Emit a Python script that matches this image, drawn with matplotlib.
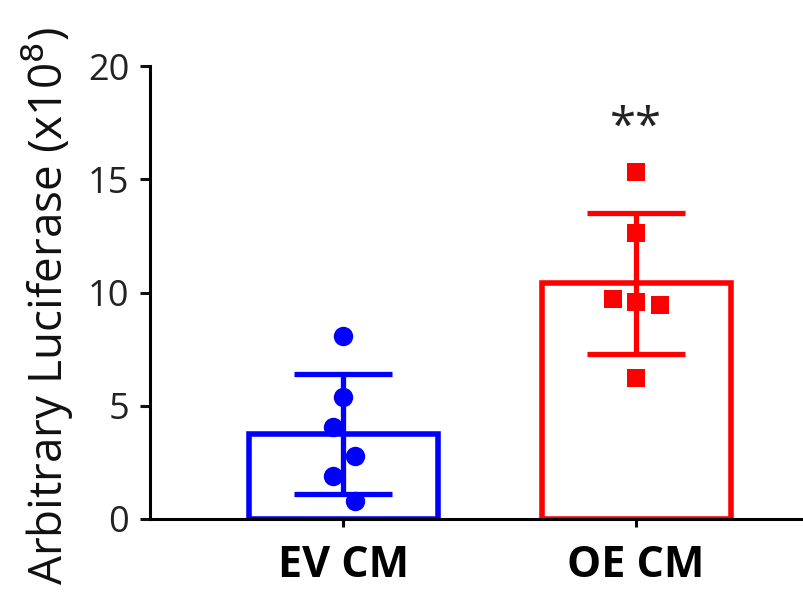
import matplotlib
matplotlib.use("Agg")
import matplotlib.pyplot as plt
import numpy as np

categories = ["EV CM", "OE CM"]
ev_values = [8.08, 5.39, 4.06, 2.78, 1.90, 0.79]
oe_values = [15.32, 12.63, 9.71, 9.58, 9.45, 6.23]
ev_offsets = [0.0, 0.0, -0.035, 0.04, -0.035, 0.04]
oe_offsets = [0.0, 0.0, -0.08, 0.0, 0.08, 0.0]
means = [3.75, 10.4]
sds = [2.65, 3.1]
colors = ["#0000ff", "#ff0000"]
yticks = [0, 5, 10, 15, 20]
annotation = "**"

plt.rcParams['font.family'] = ['Open Sans', 'DejaVu Sans']

fig = plt.figure(figsize=(8.04, 5.95), dpi=100)
ax = fig.add_axes([150/804, 1-519/595, 1-150/804, (519-66)/595])

xs = np.arange(len(categories))
for i, (m, s, c) in enumerate(zip(means, sds, colors)):
    ax.bar(xs[i], m, width=0.645, facecolor="white", edgecolor=c, linewidth=4.0, zorder=2)
    ax.errorbar(xs[i], m, yerr=s, color=c, elinewidth=3.8, capsize=35, capthick=3.8, zorder=3)

ax.plot(xs[0] + np.array(ev_offsets), ev_values, 'o', color=colors[0], markersize=14, zorder=4, markeredgewidth=0)
ax.plot(xs[1] + np.array(oe_offsets), oe_values, 's', color=colors[1], markersize=13, zorder=4, markeredgewidth=0)

ax.text(xs[1], 17.25, annotation, ha="center", va="center", fontsize=34, color="#222222")

ax.set_ylim(0, 20)
ax.set_xlim(-0.659, 1.573)
ax.set_yticks(yticks)
ax.set_xticks(xs)
ax.set_xticklabels(categories, fontsize=31, fontweight="bold")
ax.tick_params(axis='y', labelsize=26, width=2.2, length=7, pad=8, colors="#111111", labelcolor="#222222")
ax.tick_params(axis='x', width=2.2, length=6, pad=12)
ax.set_ylabel("Arbitrary Luciferase (x10$^{8}$)", fontsize=33, color="#111111")
ax.yaxis.set_label_coords(-0.115, 0.47)
for sp in ["top", "right"]:
    ax.spines[sp].set_visible(False)
for sp in ["left", "bottom"]:
    ax.spines[sp].set_linewidth(2.2)

fig.savefig("out.png", dpi=100)
